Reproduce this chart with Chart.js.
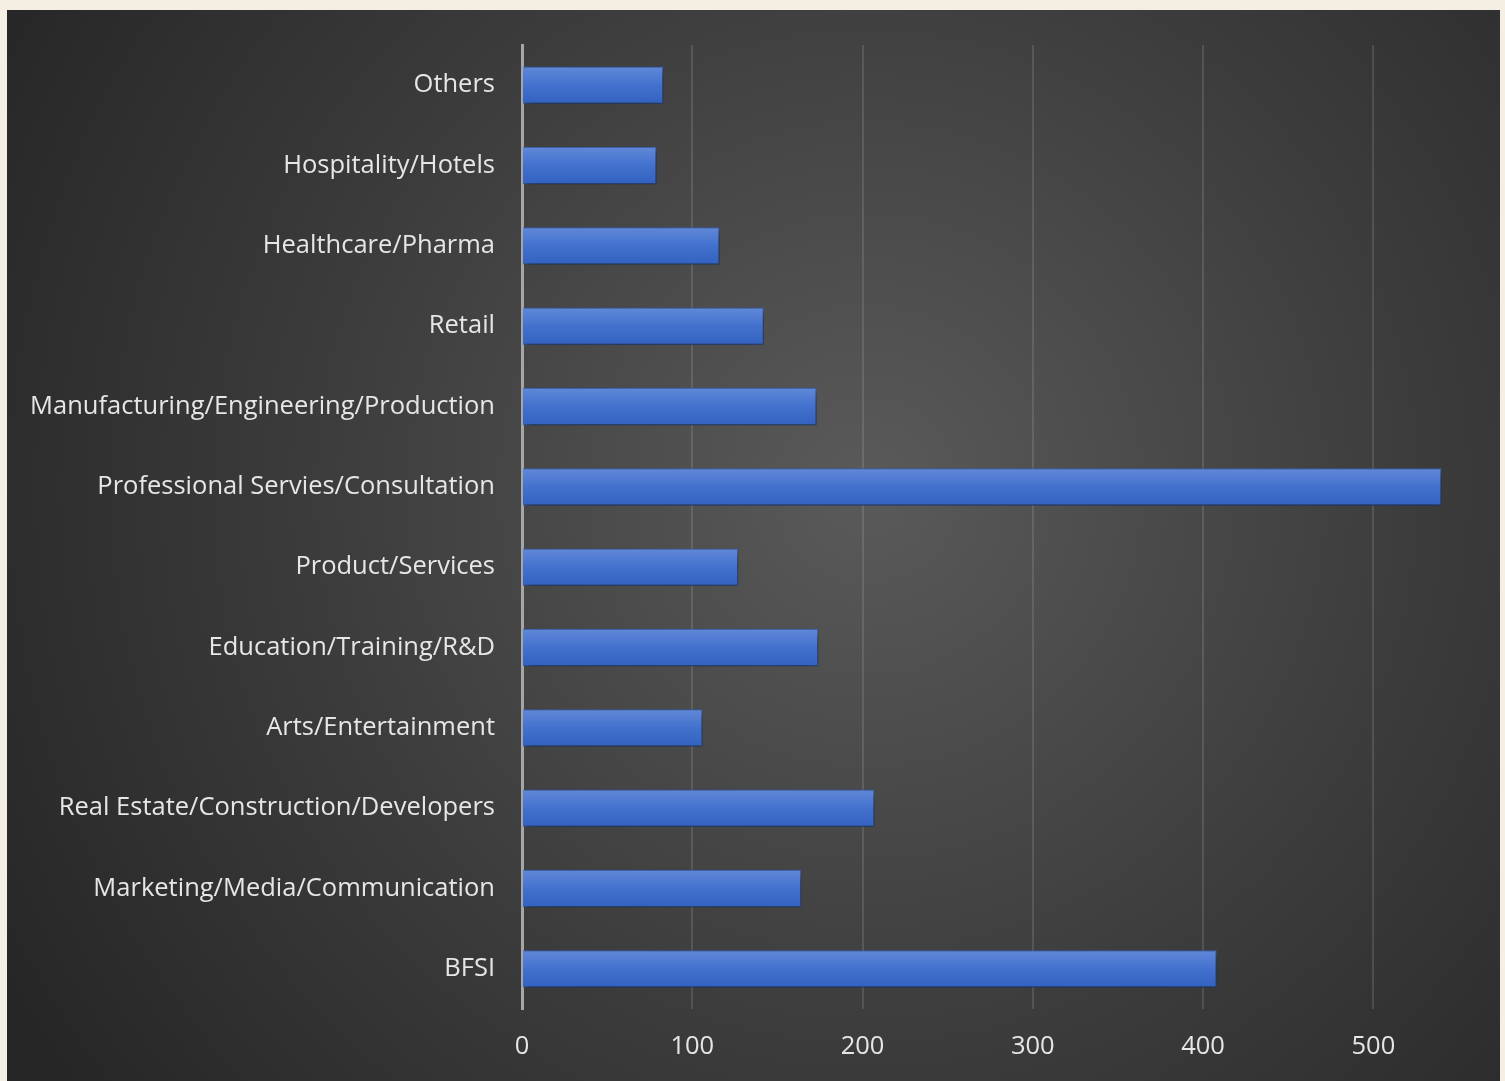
<!DOCTYPE html>
<html>
<head>
<meta charset="utf-8">
<script src="https://cdn.jsdelivr.net/npm/chart.js@4.4.1/dist/chart.umd.min.js"></script>
<style>
  html, body { margin: 0; padding: 0; background: #F4EEE3; width: 1505px; height: 1081px; overflow: hidden; }
  #wrap { position: absolute; left: 7px; top: 10px; width: 1493px; height: 1071px; }
</style>
</head>
<body>
<div id="wrap"><canvas id="c" width="1493" height="1071"></canvas></div>
<script>
const categories = [
  "Others",
  "Hospitality/Hotels",
  "Healthcare/Pharma",
  "Retail",
  "Manufacturing/Engineering/Production",
  "Professional Servies/Consultation",
  "Product/Services",
  "Education/Training/R&D",
  "Arts/Entertainment",
  "Real Estate/Construction/Developers",
  "Marketing/Media/Communication",
  "BFSI"
];
const values = [83, 79, 116, 142, 173, 540, 127, 174, 106, 207, 164, 408];
const tickValues = [0, 100, 200, 300, 400, 500];

const bgPlugin = {
  id: 'bg',
  beforeDraw(chart) {
    const ctx = chart.ctx, w = chart.width, h = chart.height;
    ctx.save();
    const g = ctx.createRadialGradient(860, 480, 0, 860, 480, 1000);
    g.addColorStop(0, '#5a5a5a');
    g.addColorStop(0.55, '#3c3c3c');
    g.addColorStop(1, '#262626');
    ctx.fillStyle = g;
    ctx.fillRect(0, 0, w, h);
    ctx.restore();
  },
  beforeDatasetsDraw(chart) {
    const ctx = chart.ctx;
    ctx.save();
    ctx.shadowColor = 'rgba(0,0,0,0.55)';
    ctx.shadowBlur = 8;
    ctx.shadowOffsetX = 3;
    ctx.shadowOffsetY = 4;
  },
  afterDatasetsDraw(chart) {
    chart.ctx.restore();
  }
};

new Chart(document.getElementById('c'), {
  type: 'bar',
  data: {
    labels: categories,
    datasets: [{
      data: values,
      backgroundColor: (c) => {
        const chart = c.chart;
        const ys = chart.scales && chart.scales.y;
        if (!chart.chartArea || !ys) return '#4472C4';
        const y = ys.getPixelForValue(c.dataIndex);
        const half = 19;
        const g = chart.ctx.createLinearGradient(0, y - half, 0, y + half);
        g.addColorStop(0, '#6289D9');
        g.addColorStop(0.5, '#4271CD');
        g.addColorStop(1, '#3261C0');
        return g;
      },
      borderColor: '#3565c0',
      borderWidth: 1,
      borderSkipped: 'left',
      categoryPercentage: 1,
      barPercentage: 0.465
    }]
  },
  options: {
    indexAxis: 'y',
    responsive: false,
    animation: false,
    devicePixelRatio: 1,
    layout: { padding: { left: 0, top: 35, right: 33, bottom: 0 } },
    plugins: { legend: { display: false }, tooltip: { enabled: false } },
    scales: {
      x: {
        type: 'linear',
        min: 0,
        max: 555,
        afterBuildTicks: (s) => { s.ticks = tickValues.map(v => ({ value: v })); },
        afterFit: (s) => { s.height = 72; s.paddingLeft = 0; s.paddingRight = 0; },
        grid: { color: 'rgba(200,200,200,0.17)', lineWidth: 2, drawTicks: false },
        border: { display: false },
        ticks: { color: '#E6E6E6', font: { family: 'Open Sans', size: 25.5 }, padding: 22 }
      },
      y: {
        afterFit: (s) => { s.width = 515; s.paddingTop = 0; s.paddingBottom = 0; },
        grid: { display: false, drawTicks: false },
        border: { display: true, color: '#A6A6A6', width: 3 },
        ticks: { color: '#E6E6E6', font: { family: 'Open Sans', size: 25.5 }, padding: 27 }
      }
    }
  },
  plugins: [bgPlugin]
});
</script>
</body>
</html>
